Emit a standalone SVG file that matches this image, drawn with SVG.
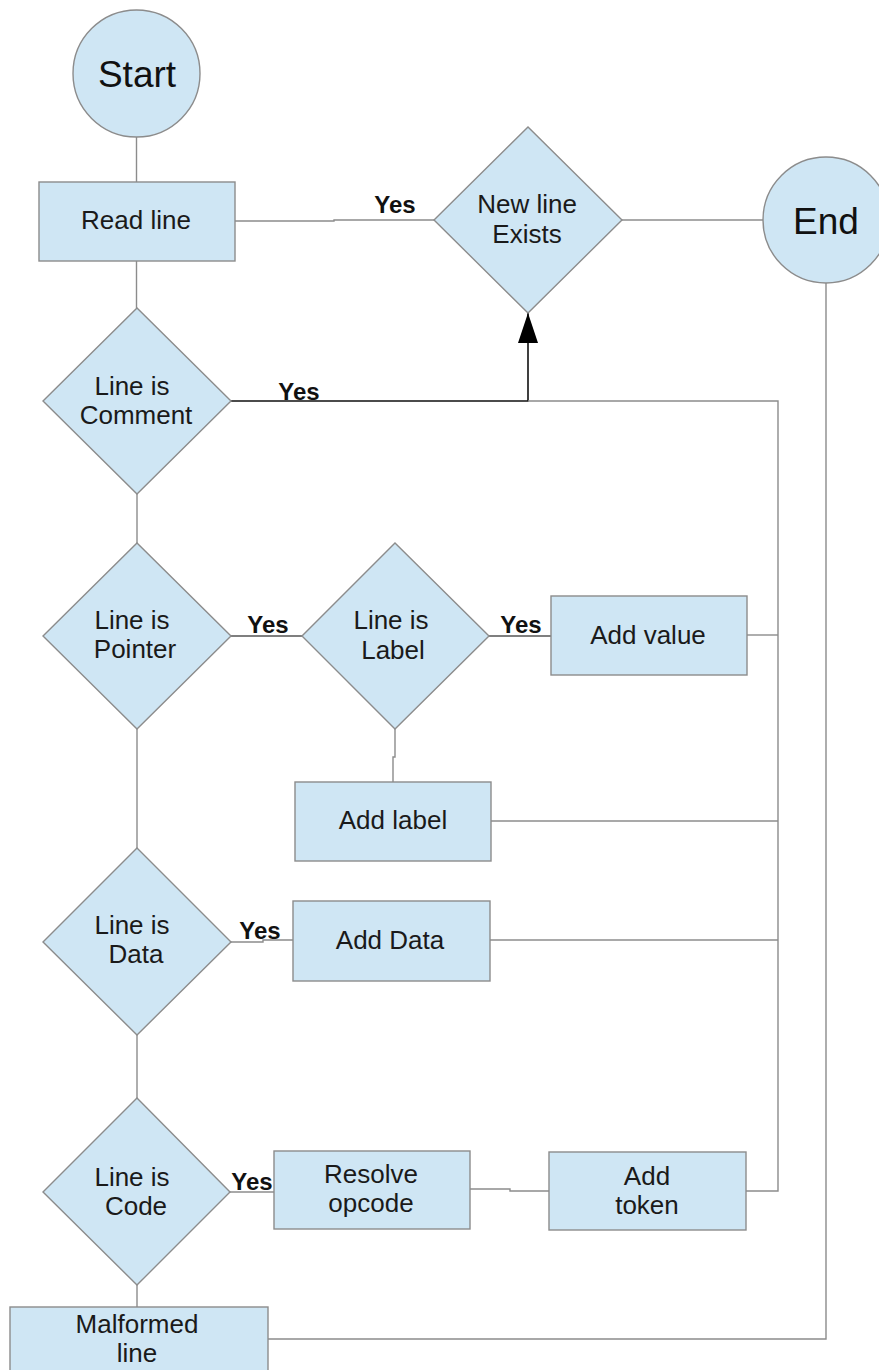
<svg xmlns="http://www.w3.org/2000/svg" width="879" height="1370" viewBox="0 0 879 1370">
<style>
.shape{fill:#cfe6f4;stroke:#8c8c8c;stroke-width:1.4}
.t{font-family:"Liberation Sans",Arial,sans-serif;font-size:26px;fill:#1a1a1a;text-anchor:middle}
.big{font-family:"Liberation Sans",Arial,sans-serif;font-size:37px;fill:#111;text-anchor:middle}
.yes{font-family:"Liberation Sans",Arial,sans-serif;font-size:24px;font-weight:bold;fill:#111;text-anchor:middle}
.c{fill:none;stroke:#8c8c8c;stroke-width:1.4}
.k{fill:none;stroke:#111;stroke-width:1.6}
</style>
<defs>
<marker id="arr" viewBox="0 0 30 20" refX="30" refY="10" markerWidth="30" markerHeight="20" markerUnits="userSpaceOnUse" orient="auto">
<path d="M0,0 L30,10 L0,20 z" fill="#000"/>
</marker>
</defs>
<g id="connectors">
<path class="c" d="M136.5 137 V182"/>
<path class="c" d="M136.5 261 V308"/>
<path class="c" d="M235 221 H334 V220 H434"/>
<path class="c" d="M622 220 H763"/>
<path class="c" d="M137 494 V543"/>
<path class="k" d="M231 401 H528 V313" marker-end="url(#arr)"/>
<path class="c" d="M528 401 H778 V1191 H746"/>
<path class="c" d="M747 635 H778"/>
<path class="c" d="M491 821 H778"/>
<path class="c" d="M490 940 H778"/>
<path class="k" d="M231 636 H302" style="stroke:#555;stroke-width:1.4"/>
<path class="k" d="M489 636 H551" style="stroke:#555;stroke-width:1.4"/>
<path class="c" d="M395 729 V757 H393 V782"/>
<path class="c" d="M137 729 V848"/>
<path class="c" d="M231 942 H263 V940 H293"/>
<path class="c" d="M137 1035 V1098"/>
<path class="c" d="M230 1192 H274"/>
<path class="c" d="M470 1189 H510 V1191 H549"/>
<path class="c" d="M137 1285 V1307"/>
<path class="c" d="M268 1339 H826 V283"/>
<text class="yes" x="395" y="213">Yes</text>
<text class="yes" x="299" y="400">Yes</text>
<text class="yes" x="268" y="633">Yes</text>
<text class="yes" x="521" y="633">Yes</text>
<text class="yes" x="260" y="939">Yes</text>
<text class="yes" x="252" y="1190">Yes</text>
</g>
<g id="start"><circle class="shape" cx="136.5" cy="73.5" r="63.5"/><text class="big" x="137" y="87">Start</text></g>
<g id="read-line"><rect class="shape" x="39" y="182" width="196" height="79"/><text class="t" x="136" y="229">Read line</text></g>
<g id="new-line-exists"><polygon class="shape" points="434,220 528,127 622,220 528,313"/><text class="t" x="527" y="213">New line</text><text class="t" x="527" y="243">Exists</text></g>
<g id="end"><circle class="shape" cx="826" cy="220" r="63"/><text class="big" x="826" y="234">End</text></g>
<g id="line-is-comment"><polygon class="shape" points="43,401 137,308 231,401 137,494"/><text class="t" x="132" y="395">Line is</text><text class="t" x="136" y="424">Comment</text></g>
<g id="line-is-pointer"><polygon class="shape" points="43,636 137,543 231,636 137,729"/><text class="t" x="132" y="629">Line is</text><text class="t" x="135" y="658">Pointer</text></g>
<g id="line-is-label"><polygon class="shape" points="302,636 395,543 489,636 395,729"/><text class="t" x="391" y="629">Line is</text><text class="t" x="393" y="659">Label</text></g>
<g id="add-value"><rect class="shape" x="551" y="596" width="196" height="79"/><text class="t" x="648" y="644">Add value</text></g>
<g id="add-label"><rect class="shape" x="295" y="782" width="196" height="79"/><text class="t" x="393" y="829">Add label</text></g>
<g id="line-is-data"><polygon class="shape" points="43,942 137,848 231,942 137,1035"/><text class="t" x="132" y="934">Line is</text><text class="t" x="136" y="963">Data</text></g>
<g id="add-data"><rect class="shape" x="293" y="901" width="197" height="80"/><text class="t" x="390" y="949">Add Data</text></g>
<g id="line-is-code"><polygon class="shape" points="43,1192 137,1098 230,1192 137,1285"/><text class="t" x="132" y="1186">Line is</text><text class="t" x="136" y="1215">Code</text></g>
<g id="resolve-opcode"><rect class="shape" x="274" y="1151" width="196" height="78"/><text class="t" x="371" y="1183">Resolve</text><text class="t" x="371" y="1212">opcode</text></g>
<g id="add-token"><rect class="shape" x="549" y="1152" width="197" height="78"/><text class="t" x="647" y="1185">Add</text><text class="t" x="647" y="1214">token</text></g>
<g id="malformed-line"><rect class="shape" x="10" y="1307" width="258" height="80"/><text class="t" x="137" y="1333">Malformed</text><text class="t" x="137" y="1362">line</text></g>
</svg>
